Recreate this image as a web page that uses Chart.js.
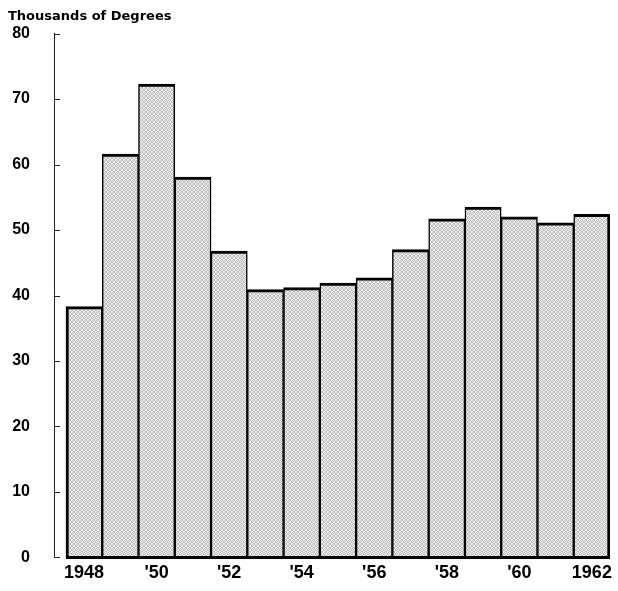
<!DOCTYPE html>
<html>
<head>
<meta charset="utf-8">
<script src="https://cdn.jsdelivr.net/npm/chart.js@4/dist/chart.umd.min.js"></script>
<style>
  html, body { margin: 0; padding: 0; background: #fff; overflow: hidden; }
  .chart-container { width: 618px; height: 591px; }
  canvas { display: block; }
</style>
</head>
<body>
<div class="chart-container">
  <canvas id="degreesChart" width="618" height="591"></canvas>
</div>
<script type="text/javascript">
  // data
  var years = [1948, 1949, 1950, 1951, 1952, 1953, 1954, 1955, 1956, 1957, 1958, 1959, 1960, 1961, 1962];
  var degrees = [38.3, 61.6, 72.3, 58.1, 46.8, 40.9, 41.2, 41.9, 42.7, 47.0, 51.7, 53.5, 52.0, 51.1, 52.4];
  var yearLabels = ["1948", "", "'50", "", "'52", "", "'54", "", "'56", "", "'58", "", "'60", "", "1962"];
  var yTicks = [0, 10, 20, 30, 40, 50, 60, 70, 80];

  // stippled grey fill, fixed 4x4 dot layout
  function stipple() {
    var c = document.createElement("canvas");
    c.width = 4; c.height = 4;
    var g = c.getContext("2d");
    g.fillStyle = "#f2f2f2"; g.fillRect(0, 0, 4, 4);
    g.fillStyle = "#bababa";
    [[0,0],[2,0],[1,1],[3,1],[0,2],[3,2],[1,3],[2,3]].forEach(function (p) {
      g.fillRect(p[0], p[1], 1, 1);
    });
    return g.createPattern(c, "repeat");
  }

  // inward ticks on the y axis and the heavy baseline under the bars
  var axisMarks = {
    id: "axisMarks",
    afterDatasetsDraw: function (chart) {
      var ctx = chart.ctx, y = chart.scales.y, x = chart.scales.x;
      var x0 = chart.chartArea.left;
      ctx.save();
      ctx.strokeStyle = "#222";
      ctx.lineWidth = 1;
      yTicks.forEach(function (v) {
        var py = Math.round(y.getPixelForValue(v)) + 0.5;
        ctx.beginPath();
        ctx.moveTo(x0, py);
        ctx.lineTo(x0 + 6, py);
        ctx.stroke();
      });
      var base = y.getPixelForValue(0);
      ctx.strokeStyle = "#000";
      ctx.lineWidth = 3;
      ctx.beginPath();
      ctx.moveTo(x.getPixelForValue(years[0] - 0.5), base);
      ctx.lineTo(x.getPixelForValue(years[years.length - 1] + 0.5), base);
      ctx.stroke();
      ctx.restore();
    }
  };

  var fill = stipple();
  var chart = new Chart("degreesChart", {
    type: "bar",
    data: {
      datasets: [{
        data: years.map(function (yr, i) { return { x: yr, y: degrees[i] }; }),
        backgroundColor: fill,
        borderColor: "#000",
        borderSkipped: false,
        borderWidth: function (c) {
          var last = years.length - 1;
          return {
            top: 3,
            bottom: 0,
            left: c.dataIndex === 0 ? 3 : 1.5,
            right: c.dataIndex === last ? 3 : 1.5
          };
        },
        barPercentage: 1,
        categoryPercentage: 1
      }]
    },
    options: {
      responsive: false,
      animation: false,
      layout: { autoPadding: false, padding: { left: 8, right: 8, top: 0, bottom: 0 } },
      plugins: {
        legend: { display: false },
        tooltip: { enabled: false },
        title: {
          display: true,
          text: "Thousands of Degrees",
          align: "start",
          color: "#000",
          font: { family: "DejaVu Sans", weight: "bold", size: 13 },
          padding: { top: 7, bottom: 9 }
        }
      },
      scales: {
        x: {
          type: "linear",
          offset: false,
          min: 1947.17,
          max: 1962.5,
          grid: { display: false, drawTicks: false },
          border: { display: false },
          afterBuildTicks: function (axis) {
            axis.ticks = years.map(function (yr) { return { value: yr }; });
          },
          afterFit: function (axis) { axis.height = 26; },
          ticks: {
            autoSkip: false,
            maxRotation: 0,
            color: "#000",
            padding: 5,
            font: { family: "Liberation Sans", weight: "bold", size: 18 },
            callback: function (v) { return yearLabels[years.indexOf(v)]; }
          }
        },
        y: {
          min: 0,
          max: 80,
          grid: { display: false, drawTicks: false },
          border: { display: true, color: "#222", width: 1 },
          afterBuildTicks: function (axis) {
            axis.ticks = yTicks.map(function (v) { return { value: v }; });
          },
          afterFit: function (axis) { axis.width = 46; },
          ticks: {
            color: "#000",
            padding: 24,
            font: { family: "Liberation Sans", weight: "bold", size: 16 }
          }
        }
      }
    },
    plugins: [axisMarks]
  });
</script>
</body>
</html>
